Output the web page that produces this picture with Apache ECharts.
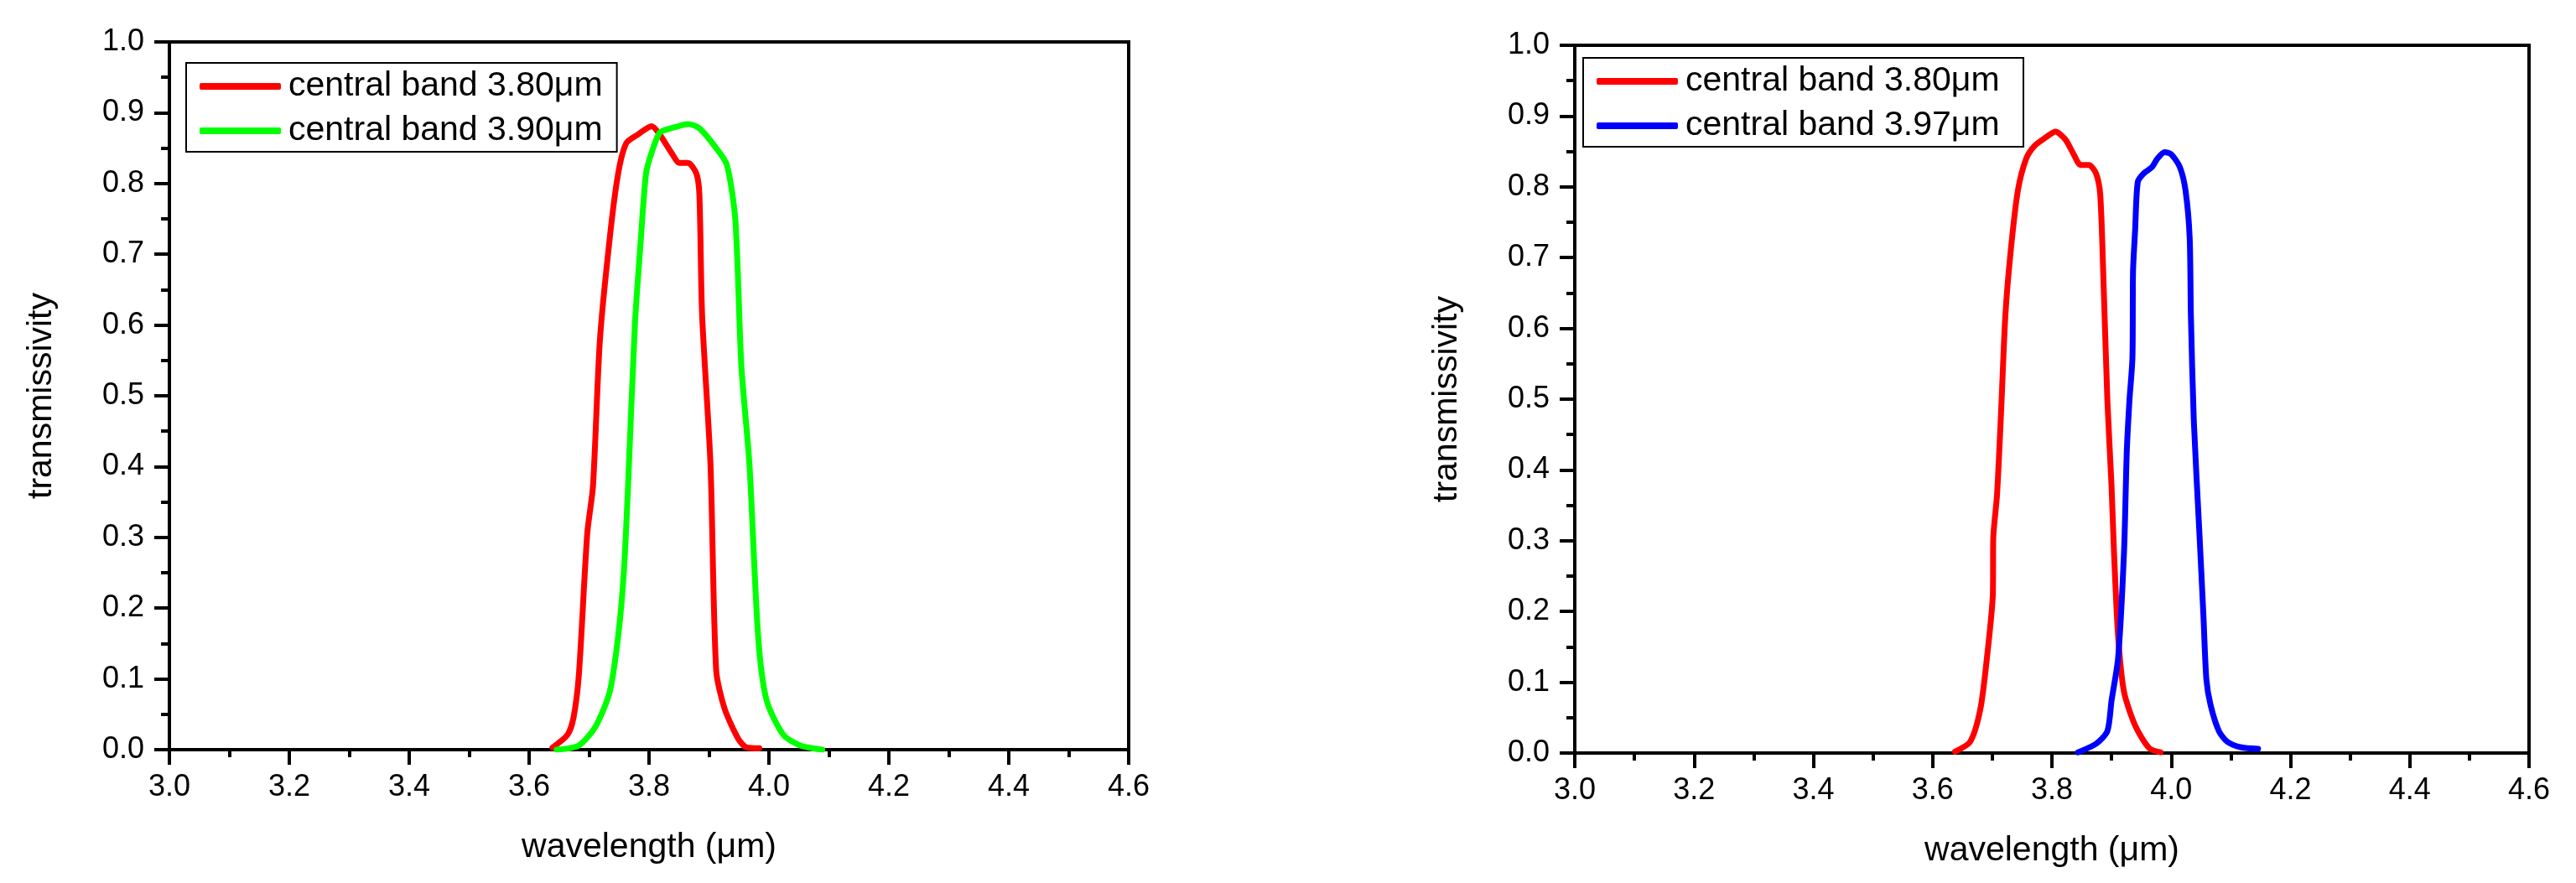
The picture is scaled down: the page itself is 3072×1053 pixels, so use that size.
<!DOCTYPE html>
<html>
<head>
<meta charset="utf-8">
<script src="https://cdn.jsdelivr.net/npm/echarts@6/dist/echarts.min.js"></script>
<style>
  html, body { margin: 0; padding: 0; background: #fff; }
  #chart { width: 3072px; height: 1053px; }
</style>
</head>
<body>
<div id="chart"></div>
<script>
// left panel, 3.80um band
var redLeftWl = [3.639, 3.664, 3.674, 3.683, 3.697, 3.7065, 3.718, 3.7345, 3.7485, 3.762, 3.781, 3.8045, 3.818, 3.837, 3.851, 3.865, 3.879, 3.884, 3.8885, 3.9025, 3.912, 3.926, 3.949, 3.963, 3.984]
var redLeftT  = [0.003, 0.021, 0.045, 0.106, 0.306, 0.372, 0.578, 0.723, 0.814, 0.857, 0.869, 0.881, 0.869, 0.844, 0.829, 0.829, 0.814, 0.784, 0.615, 0.403, 0.112, 0.058, 0.015, 0.003, 0.002]
// left panel, 3.90um band
var greenWl = [3.646, 3.683, 3.711, 3.7345, 3.7485, 3.758, 3.765, 3.7765, 3.786, 3.795, 3.8045, 3.818, 3.837, 3.865, 3.884, 3.912, 3.930, 3.944, 3.954, 3.9675, 3.982, 3.996, 4.024, 4.052, 4.089]
var greenT  = [0.000, 0.006, 0.033, 0.082, 0.160, 0.251, 0.372, 0.602, 0.717, 0.814, 0.844, 0.872, 0.878, 0.884, 0.878, 0.850, 0.826, 0.748, 0.542, 0.403, 0.160, 0.070, 0.021, 0.006, 0.000]
// right panel, 3.80um band
var redRightWl = [3.6375, 3.663, 3.680, 3.691, 3.701, 3.7017, 3.708, 3.715, 3.722, 3.731, 3.743, 3.757, 3.771, 3.790, 3.806, 3.8225, 3.8365, 3.848, 3.862, 3.874, 3.881, 3.886, 3.893, 3.900, 3.904, 3.911, 3.921, 3.940, 3.963, 3.982]
var redRightT  = [0.002, 0.016, 0.062, 0.134, 0.225, 0.304, 0.365, 0.486, 0.619, 0.710, 0.795, 0.840, 0.858, 0.870, 0.878, 0.867, 0.846, 0.831, 0.831, 0.819, 0.789, 0.680, 0.498, 0.377, 0.286, 0.165, 0.086, 0.038, 0.007, 0.001]
// right panel, 3.97um band
var blueWl = [3.8436, 3.874, 3.893, 3.900, 3.911, 3.921, 3.9255, 3.930, 3.935, 3.936, 3.9396, 3.944, 3.954, 3.968, 3.977, 3.989, 4.000, 4.0145, 4.024, 4.031, 4.033, 4.038, 4.047, 4.054, 4.059, 4.066, 4.080, 4.094, 4.1175, 4.1457]
var blueT  = [0.001, 0.013, 0.031, 0.074, 0.134, 0.286, 0.425, 0.498, 0.558, 0.680, 0.740, 0.807, 0.819, 0.828, 0.840, 0.849, 0.846, 0.828, 0.795, 0.728, 0.619, 0.468, 0.316, 0.195, 0.104, 0.068, 0.031, 0.016, 0.008, 0.006]

var xMin = 3.0, xMax = 4.6, xStep = 0.2
var yMin = 0.0, yMax = 1.0, yStep = 0.1

var FONT = 'Liberation Sans, Arial, sans-serif'

function zip(xs, ys) {
  return xs.map(function (x, i) { return [x, ys[i]] })
}

function xAxisFor(idx) {
  return {
    gridIndex: idx,
    type: 'value',
    min: xMin, max: xMax, interval: xStep,
    name: 'wavelength (\u03bcm)',
    nameLocation: 'middle',
    nameGap: 96,
    nameTextStyle: { fontFamily: FONT, fontSize: 41, color: '#000' },
    axisLine: { show: true, onZero: false, lineStyle: { color: '#000', width: 4 } },
    axisTick: { show: true, inside: false, length: 18, lineStyle: { color: '#000', width: 4 } },
    minorTick: { show: true, splitNumber: 2, length: 9, lineStyle: { color: '#000', width: 4 } },
    splitLine: { show: false },
    axisLabel: {
      fontFamily: FONT, fontSize: 36, color: '#000', margin: 27,
      formatter: function (v) { return v.toFixed(1) }
    }
  }
}

function yAxisFor(idx) {
  return {
    gridIndex: idx,
    type: 'value',
    min: yMin, max: yMax, interval: yStep,
    name: 'transmissivity',
    nameLocation: 'middle',
    nameGap: 132,
    nameTextStyle: { fontFamily: FONT, fontSize: 41, color: '#000' },
    axisLine: { show: true, onZero: false, lineStyle: { color: '#000', width: 4 } },
    axisTick: { show: true, inside: false, length: 18, lineStyle: { color: '#000', width: 4 } },
    minorTick: { show: true, splitNumber: 2, length: 10, lineStyle: { color: '#000', width: 4 } },
    splitLine: { show: false },
    axisLabel: {
      fontFamily: FONT, fontSize: 36, color: '#000', margin: 30,
      formatter: function (v) { return v.toFixed(1) }
    }
  }
}

function lineSeries(name, idx, data, color) {
  return {
    name: name,
    type: 'line',
    xAxisIndex: idx,
    yAxisIndex: idx,
    data: data,
    smooth: 0.25,
    symbol: 'none',
    lineStyle: { color: color, width: 7, cap: 'round', join: 'round' },
    itemStyle: { color: color }
  }
}

function legendFor(left, top, names) {
  return {
    orient: 'vertical',
    left: left, top: top,
    data: names.map(function (n) { return { name: n, icon: 'roundRect' } }),
    itemWidth: 97, itemHeight: 8, itemGap: 9,
    padding: [6, 17, 3, 16],
    borderColor: '#000', borderWidth: 2, borderRadius: 0,
    backgroundColor: '#fff',
    textStyle: { fontFamily: FONT, fontSize: 41, color: '#000', lineHeight: 44, padding: [0, 0, 0, 4] }
  }
}

var chart = echarts.init(document.getElementById('chart'), null, { renderer: 'canvas' })

chart.setOption({
  backgroundColor: '#fff',
  animation: false,
  grid: [
    { left: 202, right: 1726, top: 50, bottom: 159, show: true, borderColor: '#000', borderWidth: 4 },
    { left: 1878, right: 56, top: 54, bottom: 155, show: true, borderColor: '#000', borderWidth: 4 }
  ],
  xAxis: [xAxisFor(0), xAxisFor(1)],
  yAxis: [yAxisFor(0), yAxisFor(1)],
  legend: [
    legendFor(222, 75, ['central band 3.80\u03bcm', 'central band 3.90\u03bcm']),
    legendFor(1888, 69, ['central band 3.80\u03bcm ', 'central band 3.97\u03bcm'])
  ],
  series: [
    lineSeries('central band 3.80\u03bcm', 0, zip(redLeftWl, redLeftT), '#ff0000'),
    lineSeries('central band 3.90\u03bcm', 0, zip(greenWl, greenT), '#00ff00'),
    lineSeries('central band 3.80\u03bcm ', 1, zip(redRightWl, redRightT), '#ff0000'),
    lineSeries('central band 3.97\u03bcm', 1, zip(blueWl, blueT), '#0000ff')
  ]
})
</script>
</body>
</html>
